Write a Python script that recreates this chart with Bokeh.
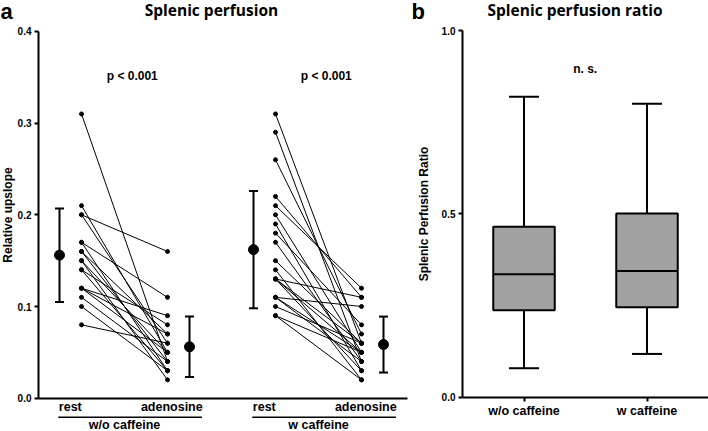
from bokeh.plotting import figure
from bokeh.layouts import row
from bokeh.models import (ColumnDataSource, Range1d, LinearAxis, FixedTicker,
                          PrintfTickFormatter, Whisker, TeeHead)
from bokeh.core.properties import value
from bokeh.embed import file_html
from bokeh.resources import INLINE

# ---------------- data ----------------
groups = ["w/o caffeine", "w caffeine"]
conditions = ["rest", "adenosine"]
p_values = ["p < 0.001", "p < 0.001"]

rest_wo = [0.31, 0.21, 0.20, 0.20, 0.17, 0.17, 0.16, 0.16, 0.15, 0.15,
           0.14, 0.14, 0.12, 0.12, 0.12, 0.11, 0.10, 0.08]
aden_wo = [0.04, 0.05, 0.16, 0.06, 0.11, 0.03, 0.07, 0.04, 0.05, 0.02,
           0.08, 0.03, 0.09, 0.05, 0.07, 0.04, 0.03, 0.06]
rest_w = [0.31, 0.29, 0.26, 0.22, 0.21, 0.20, 0.19, 0.18, 0.17, 0.15, 0.14,
          0.13, 0.13, 0.13, 0.13, 0.11, 0.11, 0.11, 0.10, 0.09, 0.09]
aden_w = [0.06, 0.04, 0.07, 0.11, 0.12, 0.05, 0.03, 0.08, 0.04, 0.06, 0.02,
          0.11, 0.05, 0.03, 0.06, 0.10, 0.05, 0.04, 0.06, 0.05, 0.02]

mean_rest = [0.156, 0.162]
sd_rest = [0.051, 0.064]
mean_aden = [0.056, 0.0585]
sd_aden = [0.033, 0.0305]

ratio_groups = ["w/o caffeine", "w caffeine"]
ratio_low = [0.079, 0.118]
ratio_q1 = [0.237, 0.245]
ratio_median = [0.335, 0.344]
ratio_q3 = [0.465, 0.501]
ratio_high = [0.819, 0.800]
ratio_test = "n. s."

# ---------------- layout ----------------
W_L, W_R, H = 408, 300, 431
SANS = "Liberation Sans"
BOLD_SANS = value(SANS)
TITLE_FONT = value("Open Sans")

def lx(px):
    return 1 + (px - 81) / 86

def ly(py):
    return (397.7 - py) / 917

def rx(px):
    return 1 + (px - 523.5) / 123

def ry(py):
    return (396.7 - py) / 366.7

def style_axis(ax, label_size, standoff, tick_out):
    ax.major_label_text_font = SANS
    ax.major_label_text_font_style = "bold"
    ax.major_label_text_font_size = label_size
    ax.major_label_text_color = "black"
    ax.major_label_standoff = standoff
    ax.axis_label_text_font = SANS
    ax.axis_label_text_font_style = "bold"
    ax.axis_label_text_font_size = "12px"
    ax.axis_label_text_color = "black"
    ax.axis_line_width = 2
    ax.axis_line_color = "black"
    ax.major_tick_line_width = 2
    ax.major_tick_line_color = "black"
    ax.major_tick_out = tick_out
    ax.major_tick_in = 0
    ax.minor_tick_out = 0
    ax.minor_tick_in = 0

# ---------------- left panel ----------------
pl = figure(width=W_L, height=H, output_backend="svg", toolbar_location=None,
            x_range=Range1d(lx(0), lx(W_L)), y_range=Range1d(ly(H), ly(0)),
            x_axis_type=None, y_axis_type=None, min_border=0)
pl.outline_line_color = None

group_x = [1.0, 1.0 + 194 / 86]
mean_off = 22 / 86
tick_off = [-0.13, 0.05]

yax = LinearAxis(fixed_location=lx(38), bounds=(0, 0.4),
                 ticker=FixedTicker(ticks=[0, 0.1, 0.2, 0.3, 0.4]),
                 formatter=PrintfTickFormatter(format="%.1f"),
                 axis_label="Relative upslope")
style_axis(yax, "10px", 3, 4)
yax.axis_label_standoff = 0
pl.add_layout(yax, "left")

xticks = []
xlabels = {}
for g in range(2):
    for c in range(2):
        t = round(group_x[g] + c + tick_off[c], 4)
        xticks.append(t)
        xlabels[t] = conditions[c]
xax = LinearAxis(fixed_location=0, bounds=(lx(38), lx(407)),
                 ticker=FixedTicker(ticks=xticks), major_label_overrides=xlabels)
style_axis(xax, "12.5px", 2, 0)
pl.add_layout(xax, "below")

# paired lines and dots
for g, (r, a) in enumerate([(rest_wo, aden_wo), (rest_w, aden_w)]):
    src = ColumnDataSource(dict(x0=[group_x[g]] * len(r), y0=r,
                                x1=[group_x[g] + 1] * len(a), y1=a))
    pl.segment("x0", "y0", "x1", "y1", source=src, line_color="black", line_width=1)
    pl.scatter("x0", "y0", source=src, size=4, color="black")
    pl.scatter("x1", "y1", source=src, size=4, color="black")

# mean +/- SD
ms = ColumnDataSource(dict(
    x=[group_x[0] - mean_off, group_x[0] + 1 + mean_off,
       group_x[1] - mean_off, group_x[1] + 1 + mean_off],
    m=[mean_rest[0], mean_aden[0], mean_rest[1], mean_aden[1]],
    lo=[mean_rest[0] - sd_rest[0], mean_aden[0] - sd_aden[0],
        mean_rest[1] - sd_rest[1], mean_aden[1] - sd_aden[1]],
    hi=[mean_rest[0] + sd_rest[0], mean_aden[0] + sd_aden[0],
        mean_rest[1] + sd_rest[1], mean_aden[1] + sd_aden[1]]))
pl.add_layout(Whisker(source=ms, base="x", lower="lo", upper="hi", dimension="height",
                      line_width=2, line_color="black",
                      upper_head=TeeHead(size=9, line_width=2, line_color="black"),
                      lower_head=TeeHead(size=9, line_width=2, line_color="black")))
pl.scatter("x", "m", source=ms, size=10, color="black")

# group underline and group labels
ul = ColumnDataSource(dict(x0=[gx - 0.27 for gx in group_x],
                           x1=[gx + 1.40 for gx in group_x],
                           y=[ly(416.7)] * 2,
                           xc=[gx + 0.5 for gx in group_x],
                           yc=[ly(424)] * 2,
                           lab=groups,
                           xp=[gx + 0.59 for gx in group_x],
                           yp=[ly(75.5)] * 2,
                           pv=p_values))
pl.segment("x0", "y", "x1", "y", source=ul, line_color="black", line_width=1.5)
pl.text("xc", "yc", text="lab", source=ul, text_font=BOLD_SANS, text_font_style="bold",
        text_font_size="12.5px", text_align="center", text_baseline="middle")
pl.text("xp", "yp", text="pv", source=ul, text_font=BOLD_SANS, text_font_style="bold",
        text_font_size="12px", text_align="center", text_baseline="middle")

pl.text(x=[lx(211)], y=[ly(9.5)], text=["Splenic perfusion"], text_font=TITLE_FONT,
        text_font_style="bold", text_font_size="15.5px", text_align="center",
        text_baseline="middle")
pl.text(x=[lx(0)], y=[ly(11)], text=["a"], text_font=BOLD_SANS, text_font_style="bold",
        text_font_size="22px", text_align="left", text_baseline="middle")

# ---------------- right panel ----------------
pr = figure(width=W_R, height=H, output_backend="svg", toolbar_location=None,
            x_range=Range1d(rx(W_L), rx(W_L + W_R)),
            y_range=Range1d(ry(H), ry(0)),
            x_axis_type=None, y_axis_type=None, min_border=0)
pr.outline_line_color = None

ryax = LinearAxis(fixed_location=0.5, bounds=(0, 1),
                  ticker=FixedTicker(ticks=[0, 0.5, 1.0]),
                  formatter=PrintfTickFormatter(format="%.1f"),
                  axis_label="Splenic Perfusion Ratio")
style_axis(ryax, "10px", 3, 4)
ryax.axis_label_standoff = 8
pr.add_layout(ryax, "left")

bx = [i + 1 for i in range(len(ratio_groups))]
rxax = LinearAxis(fixed_location=0, bounds=(0.5, 2.5),
                  ticker=FixedTicker(ticks=bx),
                  major_label_overrides={b: g for b, g in zip(bx, ratio_groups)})
style_axis(rxax, "12.5px", 3, 4)
pr.add_layout(rxax, "below")

bs = ColumnDataSource(dict(x=bx, low=ratio_low, q1=ratio_q1, med=ratio_median,
                           q3=ratio_q3, high=ratio_high,
                           cl=[b - 0.122 for b in bx], cr=[b + 0.122 for b in bx],
                           ml=[b - 0.25 for b in bx], mr=[b + 0.25 for b in bx]))
pr.segment("x", "q3", "x", "high", source=bs, line_color="black", line_width=2)
pr.segment("x", "q1", "x", "low", source=bs, line_color="black", line_width=2)
pr.segment("cl", "high", "cr", "high", source=bs, line_color="black", line_width=2)
pr.segment("cl", "low", "cr", "low", source=bs, line_color="black", line_width=2)
pr.vbar(x="x", bottom="q1", top="q3", width=0.5, source=bs, fill_color="#a2a2a2",
        line_color="black", line_width=2)
pr.segment("ml", "med", "mr", "med", source=bs, line_color="black", line_width=2)

pr.text(x=[rx(584.7)], y=[ry(68)], text=[ratio_test], text_font=BOLD_SANS,
        text_font_style="bold", text_font_size="12px", text_align="center",
        text_baseline="middle")
pr.text(x=[rx(574.5)], y=[ry(9.5)], text=["Splenic perfusion ratio"], text_font=TITLE_FONT,
        text_font_style="bold", text_font_size="15.5px", text_align="center",
        text_baseline="middle")
pr.text(x=[rx(411)], y=[ry(11)], text=["b"], text_font=BOLD_SANS, text_font_style="bold",
        text_font_size="22px", text_align="left", text_baseline="middle")

layout = row(pl, pr)
open("out.html", "w").write(file_html(layout, INLINE))
